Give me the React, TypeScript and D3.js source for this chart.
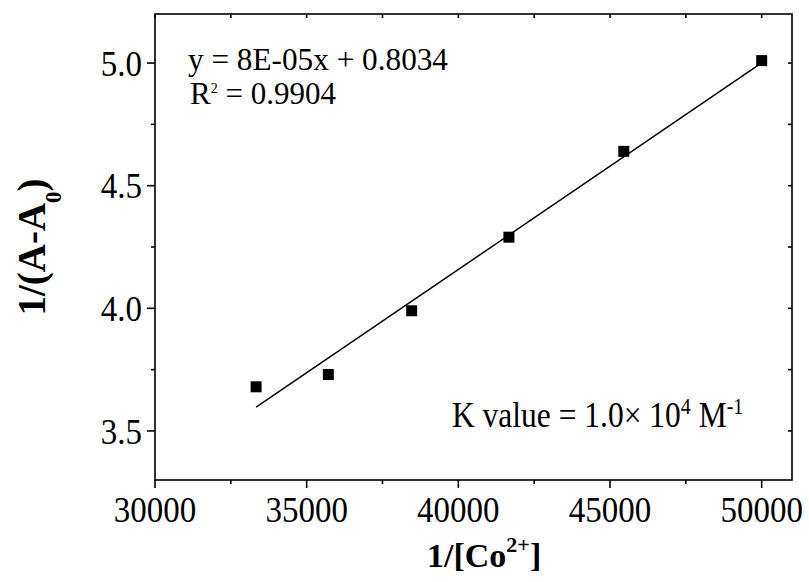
import React from "react";
import * as d3 from "d3";

// Benesi–Hildebrand style plot: 1/(A-A0) versus 1/[Co2+]
const invConc: number[] = [33333, 35714, 38462, 41667, 45455, 50000];
const invAbs: number[] = [3.68, 3.73, 3.99, 4.29, 4.64, 5.01];

const xMajorTicks: number[] = [30000, 35000, 40000, 45000, 50000];
const xMinorTicks: number[] = [32500, 37500, 42500, 47500];
const yMajorTicks: number[] = [3.5, 4.0, 4.5, 5.0];
const yMinorTicks: number[] = [3.75, 4.25, 4.75];

const equationText = "y = 8E-05x + 0.8034";
const r2Value = "0.9904";

const W = 809;
const H = 582;
const frame = { left: 155, right: 792, top: 14, bottom: 480 };

const FONT = "'Liberation Serif', 'Times New Roman', serif";

function leastSquares(xs: number[], ys: number[]) {
  const mx = d3.mean(xs) as number;
  const my = d3.mean(ys) as number;
  let sxy = 0;
  let sxx = 0;
  xs.forEach((x, i) => {
    sxy += (x - mx) * (ys[i] - my);
    sxx += (x - mx) * (x - mx);
  });
  const slope = sxy / sxx;
  return { slope, intercept: my - slope * mx };
}

export default function App() {
  const x = d3.scaleLinear().domain([30000, 51000]).range([frame.left, frame.right]);
  const y = d3.scaleLinear().domain([3.3, 5.2]).range([frame.bottom, frame.top]);

  const fit = leastSquares(invConc, invAbs);
  const [xMin, xMax] = d3.extent(invConc) as [number, number];
  const fitPts: [number, number][] = [xMin, xMax].map((v) => [v, fit.slope * v + fit.intercept]);
  const fitLine = d3
    .line<[number, number]>()
    .x((d) => x(d[0]))
    .y((d) => y(d[1]))(fitPts) as string;

  const sq = 11;
  const axisStroke = 1.6;
  const stretch = 1.1;

  return (
    <svg
      width={W}
      height={H}
      viewBox={`0 0 ${W} ${H}`}
      style={{ position: "absolute", left: 0, top: 0, background: "#fff" }}
      fontFamily={FONT}
    >
      <rect x={0} y={0} width={W} height={H} fill="#fff" />

      {/* plot frame */}
      <rect
        x={frame.left}
        y={frame.top}
        width={frame.right - frame.left}
        height={frame.bottom - frame.top}
        fill="none"
        stroke="#000"
        strokeWidth={axisStroke}
      />

      {/* bottom axis ticks (outward) */}
      {xMajorTicks.map((t) => (
        <line key={`xb${t}`} x1={x(t)} x2={x(t)} y1={frame.bottom} y2={frame.bottom + 8} stroke="#000" strokeWidth={axisStroke} />
      ))}
      {xMinorTicks.map((t) => (
        <line key={`xbm${t}`} x1={x(t)} x2={x(t)} y1={frame.bottom} y2={frame.bottom + 4} stroke="#000" strokeWidth={axisStroke} />
      ))}
      {/* top axis ticks (inward) */}
      {[...xMajorTicks, ...xMinorTicks].map((t) => (
        <line key={`xt${t}`} x1={x(t)} x2={x(t)} y1={frame.top} y2={frame.top + 4} stroke="#000" strokeWidth={axisStroke} />
      ))}
      {/* left axis ticks (outward) */}
      {yMajorTicks.map((t) => (
        <line key={`yl${t}`} x1={frame.left - 8} x2={frame.left} y1={y(t)} y2={y(t)} stroke="#000" strokeWidth={axisStroke} />
      ))}
      {yMinorTicks.map((t) => (
        <line key={`ylm${t}`} x1={frame.left - 4} x2={frame.left} y1={y(t)} y2={y(t)} stroke="#000" strokeWidth={axisStroke} />
      ))}
      {/* right axis ticks (inward) */}
      {[...yMajorTicks, ...yMinorTicks].map((t) => (
        <line key={`yr${t}`} x1={frame.right - 4} x2={frame.right} y1={y(t)} y2={y(t)} stroke="#000" strokeWidth={axisStroke} />
      ))}

      {/* tick labels */}
      {xMajorTicks.map((t) => (
        <g key={`xl${t}`} transform={`translate(${x(t)}, 522) scale(1, ${stretch})`}>
          <text textAnchor="middle" fontSize={33} fill="#000">
            {String(t)}
          </text>
        </g>
      ))}
      {yMajorTicks.map((t) => (
        <g key={`yt${t}`} transform={`translate(${frame.left - 13}, ${y(t)}) scale(1, ${stretch})`}>
          <text dy="0.35em" textAnchor="end" fontSize={33} fill="#000">
            {d3.format(".1f")(t)}
          </text>
        </g>
      ))}

      {/* axis titles */}
      <text x={427} y={567} fontSize={34} fontWeight="bold" fill="#000">
        1/[Co
        <tspan fontSize={22} dy={-15}>2+</tspan>
        <tspan dy={15}>]</tspan>
      </text>
      <text
        transform={`translate(45, ${(frame.top + frame.bottom) / 2}) rotate(-90)`}
        textAnchor="middle"
        fontSize={39}
        fontWeight="bold"
        fill="#000"
      >
        1/(A-A
        <tspan fontSize={23} dy={16}>0</tspan>
        <tspan dy={-16}>)</tspan>
      </text>

      {/* linear fit */}
      <path d={fitLine} fill="none" stroke="#000" strokeWidth={1.5} />

      {/* data points */}
      {invConc.map((v, i) => (
        <rect key={`p${i}`} x={x(v) - sq / 2} y={y(invAbs[i]) - sq / 2} width={sq} height={sq} fill="#000" />
      ))}

      {/* annotations */}
      <text x={188} y={69.5} fontSize={31} fill="#000" textLength={260} lengthAdjust="spacingAndGlyphs">
        {equationText}
      </text>
      <text x={190} y={104} fontSize={31} fill="#000">
        R<tspan fontSize={14} dy={-11.5}>2</tspan>
        <tspan dy={11.5}>{` = ${r2Value}`}</tspan>
      </text>
      <g transform={`translate(452, 426.7) scale(1, 1.12)`}>
        <text x={0} y={0} fontSize={31.5} fill="#000">
          K value = 1.0× 10<tspan fontSize={20} dy={-11}>4</tspan>
          <tspan dy={11}> M</tspan>
          <tspan fontSize={20} dy={-11}>-1</tspan>
        </text>
      </g>
    </svg>
  );
}
